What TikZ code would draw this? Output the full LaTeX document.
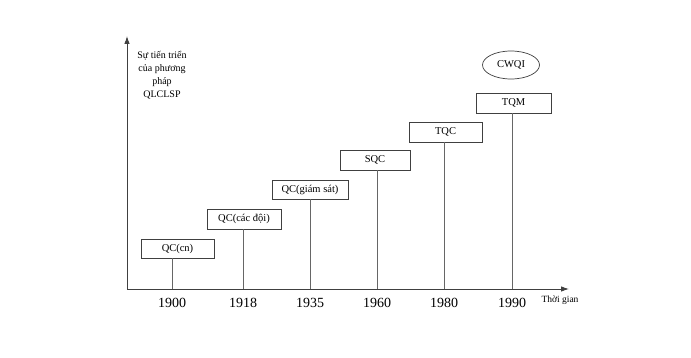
\documentclass[tikz,border=0pt]{standalone}
\usepackage{fontspec}
\setmainfont{Liberation Serif}
\usetikzlibrary{arrows.meta,shapes.geometric}
\begin{document}
\begin{tikzpicture}[x=1pt,y=-1pt,
  boxst/.style={draw=black!75,line width=0.7pt,inner sep=0pt,font=\fontsize{10.5}{12}\selectfont},
  stem/.style={draw=black!60,line width=0.7pt},
  yearst/.style={font=\fontsize{14}{16}\selectfont,inner sep=0pt},
  axisst/.style={draw=black!75,line width=0.9pt,-{Latex[length=8pt,width=5.5pt]}}]
\useasboundingbox (0,0) rectangle (691,358);
\coordinate (O) at (127,289);
\coordinate (ytop) at (127,36);
\coordinate (xend) at (569,289);
\draw[axisst] (O) -- (ytop);
\draw[axisst] (O) -- (xend);
\node[align=center,font=\fontsize{10}{13}\selectfont,inner sep=0pt] (ylab) at (162,75) {Sự tiến triển\\của phương\\pháp\\QLCLSP};
\node[font=\fontsize{9.5}{11}\selectfont,inner sep=0pt] (xlab) at (560,300) {Thời gian};
% time ticks
\coordinate (t1) at (172,289);
\coordinate (t2) at (243,289);
\coordinate (t3) at (310,289);
\coordinate (t4) at (377,289);
\coordinate (t5) at (444,289);
\coordinate (t6) at (512,289);
\node[yearst] (y1) at (172,303) {1900};
\node[yearst] (y2) at (243,303) {1918};
\node[yearst] (y3) at (310,303) {1935};
\node[yearst] (y4) at (377,303) {1960};
\node[yearst] (y5) at (444,303) {1980};
\node[yearst] (y6) at (512,303) {1990};
% boxes
\node[boxst,minimum width=73pt,minimum height=19pt] (b1) at (177.5,248.5) {QC(cn)};
\node[boxst,minimum width=74pt,minimum height=20pt] (b2) at (244,219) {QC(các đội)};
\node[boxst,minimum width=76pt,minimum height=19pt] (b3) at (310,189.5) {QC(giám sát)};
\node[boxst,minimum width=70pt,minimum height=20pt] (b4) at (375,160) {SQC};
\node[boxst,minimum width=73pt,minimum height=20pt] (b5) at (445.5,132) {TQC};
\node[boxst,minimum width=75pt,minimum height=20pt] (b6) at (513.5,103) {TQM};
\node[ellipse,draw=black!75,line width=0.7pt,minimum width=57pt,minimum height=28pt,inner sep=0pt,font=\fontsize{10.5}{12}\selectfont] (e) at (511,65) {CWQI};
% stems
\draw[stem] (t1 |- b1.south) -- (t1);
\draw[stem] (t2 |- b2.south) -- (t2);
\draw[stem] (t3 |- b3.south) -- (t3);
\draw[stem] (t4 |- b4.south) -- (t4);
\draw[stem] (t5 |- b5.south) -- (t5);
\draw[stem] (t6 |- b6.south) -- (t6);
\end{tikzpicture}
\end{document}
